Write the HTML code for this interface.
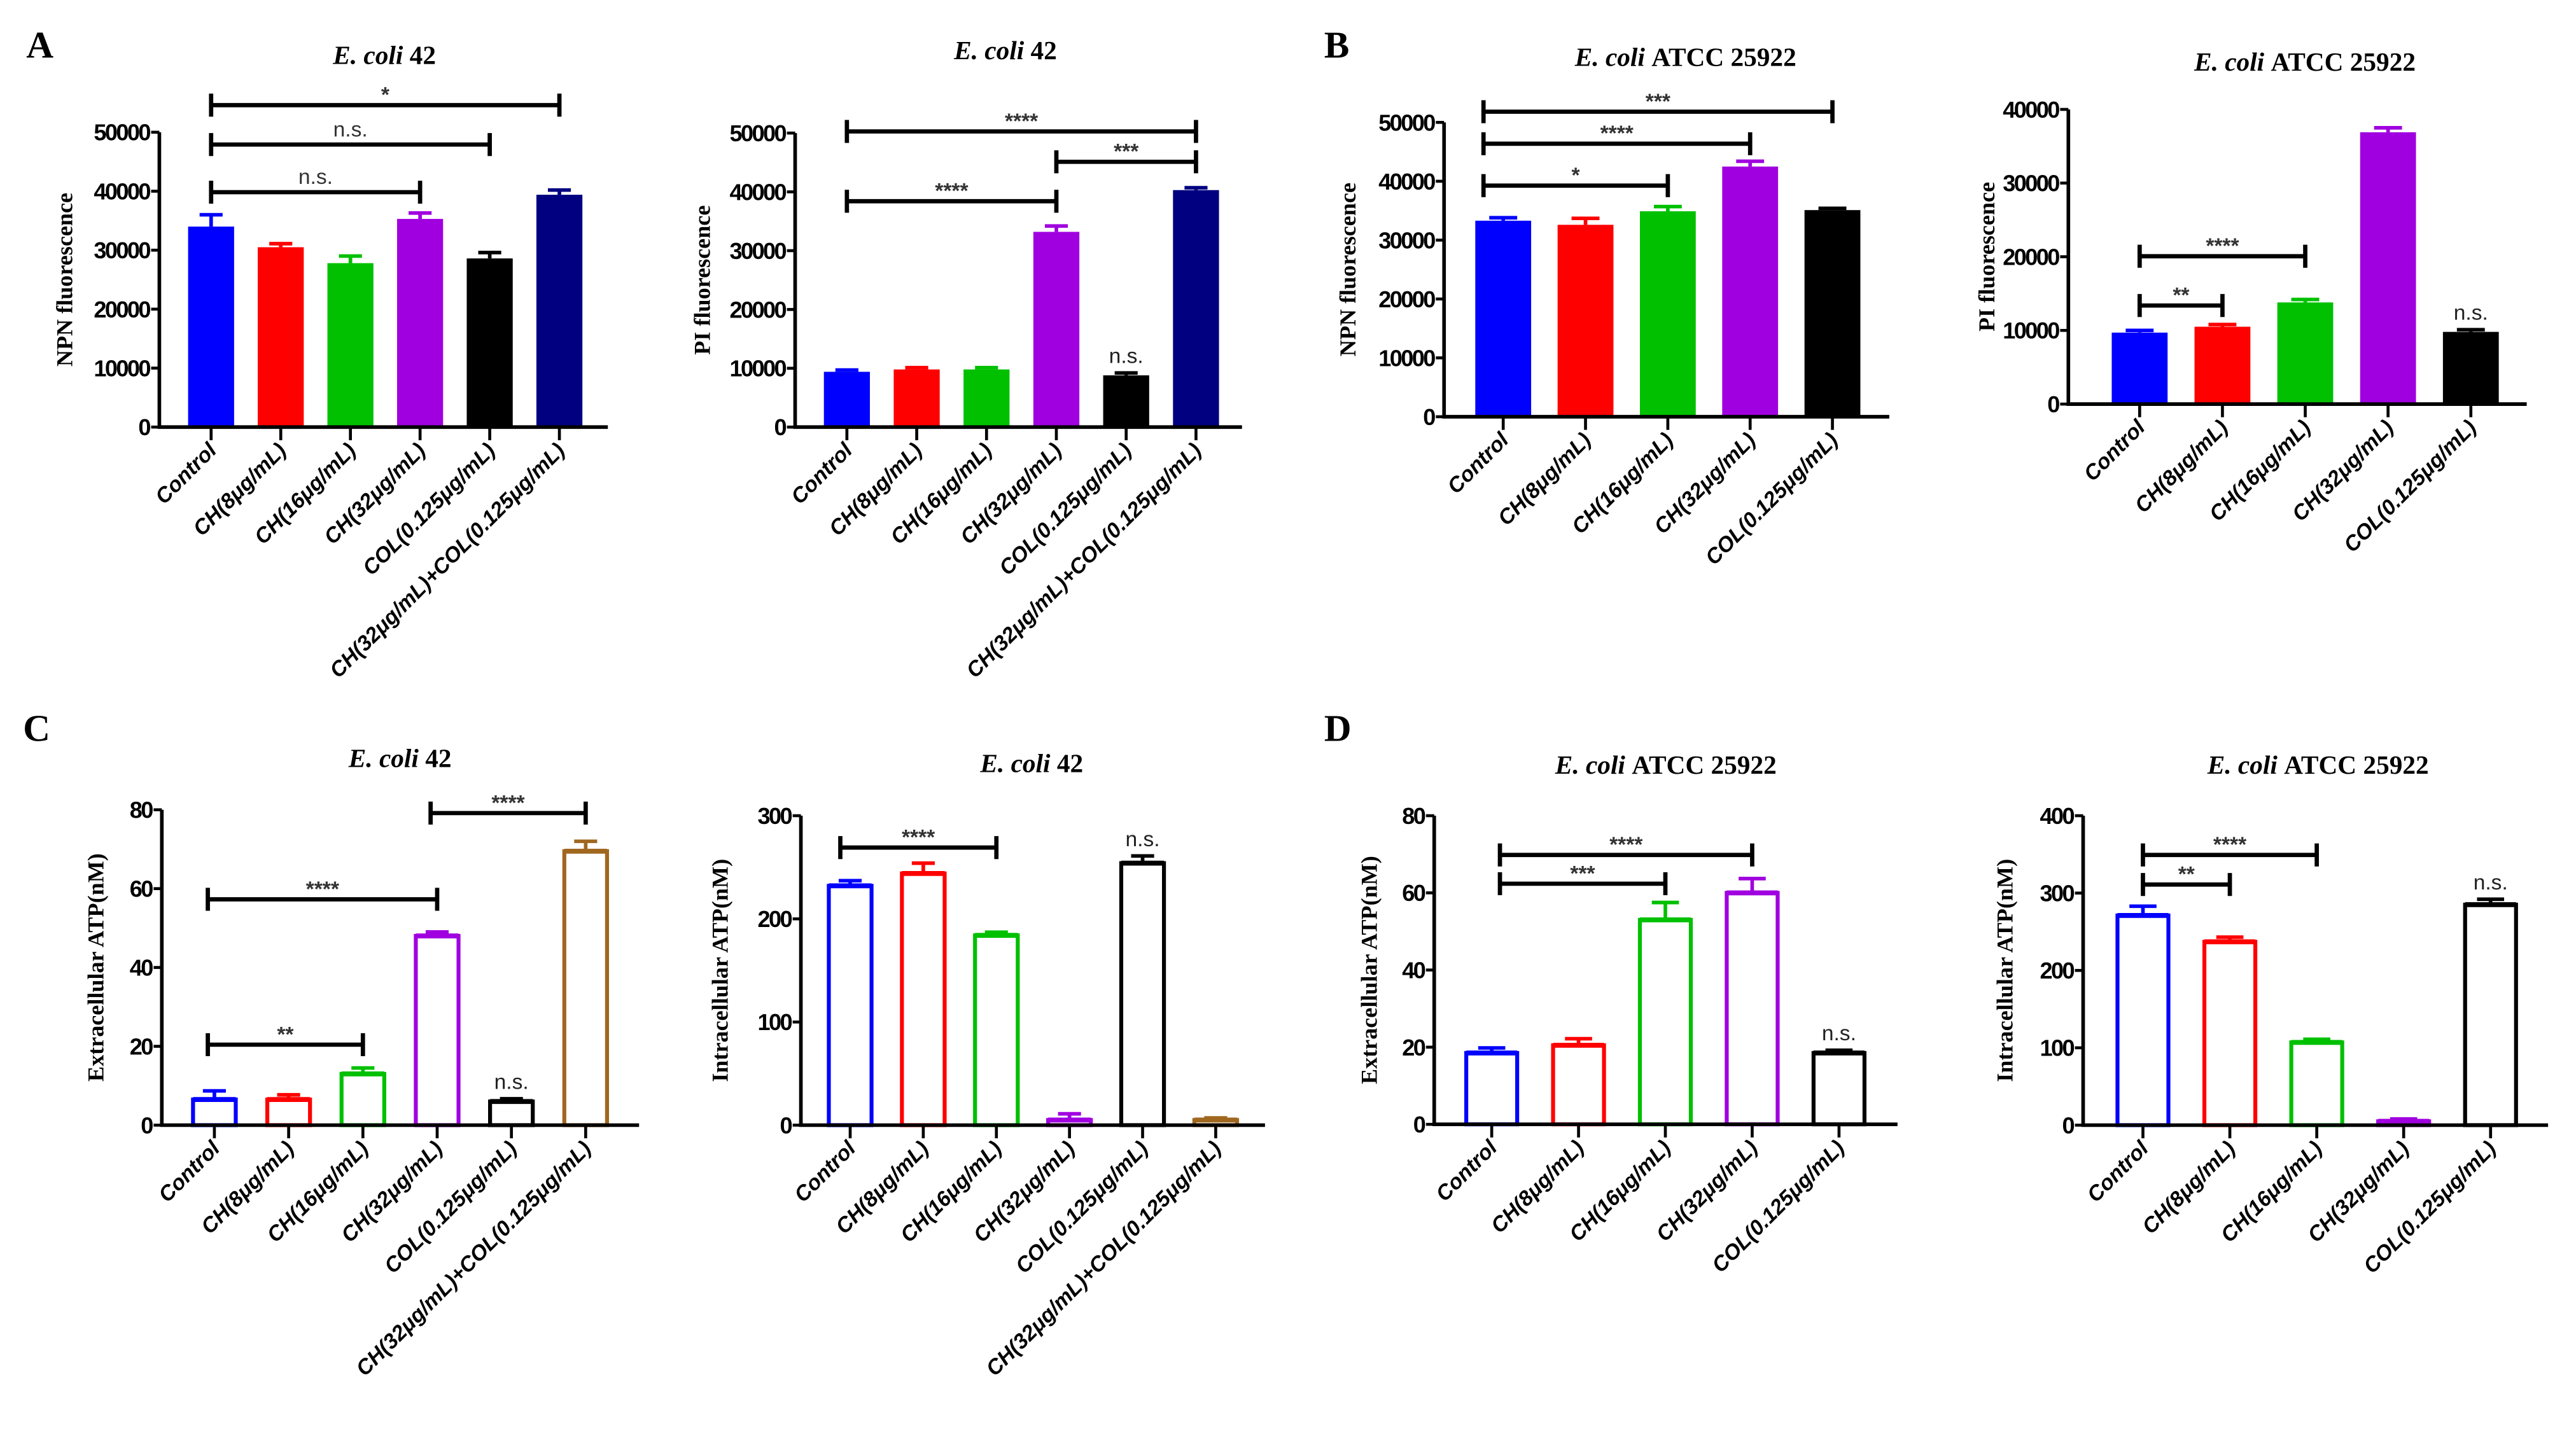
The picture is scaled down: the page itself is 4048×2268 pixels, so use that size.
<!DOCTYPE html>
<html><head><meta charset="utf-8"><style>
html,body{margin:0;padding:0;background:#fff;}
svg{display:block;}
</style></head><body>
<svg id="fig" xmlns="http://www.w3.org/2000/svg" width="4048" height="2268" viewBox="0 0 1568 878.5">
<rect width="1568" height="878.5" fill="#fff"/>
<g font-family="Liberation Serif, serif" font-weight="bold" font-size="23">
<text x="16" y="35">A</text>
<text x="806" y="35">B</text>
<text x="14" y="451">C</text>
<text x="806" y="451">D</text>
</g>
<g id="plots"></g>
</svg>
<script>
const catsFull = ["Control","CH(8μg/mL)","CH(16μg/mL)","CH(32μg/mL)","COL(0.125μg/mL)","CH(32μg/mL)+COL(0.125μg/mL)"];
const catsFive = ["Control","CH(8μg/mL)","CH(16μg/mL)","CH(32μg/mL)","COL(0.125μg/mL)"];
const colorsFull = ["#0000ff","#ff0000","#00c000","#a000e0","#000000","#000080"];
const colorsHollow = ["#0000ff","#ff0000","#00c000","#a000e0","#000000","#a0671f"];

const a1Values = [34000,30500,27800,35300,28600,39400];
const a1Errors = [2000,600,1200,1000,1000,800];
const a1Ticks = [0,10000,20000,30000,40000,50000];
const a1Sig = [[0,5,"*"],[0,4,"n.s."],[0,3,"n.s."]];

const a2Values = [9400,9800,9800,33200,8800,40300];
const a2Errors = [300,300,300,1000,400,400];
const a2Ticks = [0,10000,20000,30000,40000,50000];
const a2Sig = [[0,5,"****"],[3,5,"***"],[0,3,"****"]];

const b1Values = [33300,32600,34900,42500,35100];
const b1Errors = [500,1100,800,900,300];
const b1Ticks = [0,10000,20000,30000,40000,50000];
const b1Sig = [[0,4,"***"],[0,3,"****"],[0,2,"*"]];

const b2Values = [9700,10500,13800,36900,9800];
const b2Errors = [300,300,400,600,300];
const b2Ticks = [0,10000,20000,30000,40000];
const b2Sig = [[0,2,"****"],[0,1,"**"]];

const c1Values = [6.5,6.5,13,48,6,69.5];
const c1Errors = [2.2,1.2,1.5,1,0.7,2.5];
const c1Ticks = [0,20,40,60,80];
const c1Sig = [[3,5,"****"],[0,3,"****"],[0,2,"**"]];

const c2Values = [232,244,184,5,254,5];
const c2Errors = [5,10,3,6,7,2];
const c2Ticks = [0,100,200,300];
const c2Sig = [[0,2,"****"]];

const d1Values = [18.5,20.5,53,60,18.5];
const d1Errors = [1.3,1.7,4.5,3.7,0.7];
const d1Ticks = [0,20,40,60,80];
const d1Sig = [[0,3,"****"],[0,2,"***"]];

const d2Values = [271,237,107,5,285];
const d2Errors = [12,6,4,3,7];
const d2Ticks = [0,100,200,300,400];
const d2Sig = [[0,2,"****"],[0,1,"**"]];

const NS = "http://www.w3.org/2000/svg";
const root = document.getElementById("plots");
function mk(tag, attrs, parent){
  const e = document.createElementNS(NS, tag);
  for (const k in attrs) e.setAttribute(k, attrs[k]);
  (parent||root).appendChild(e);
  return e;
}

function panel(p){
  const g = mk("g", {});
  
  
  const yMax = p.ticks[p.ticks.length-1];
  const ys = v => p.y0 - (v / yMax) * (p.y0 - p.yTop);
  const n = p.values.length;
  const xs = i => p.x0 + i * p.step;

  const t = mk("text", {x:p.tx, y:p.ty, "text-anchor":"middle", "font-family":"Liberation Serif, serif", "font-weight":"bold", "font-size":"16"}, g);
  
  
  const ts1 = mk("tspan", {"font-style":"italic"}, t); ts1.textContent = "E. coli ";
  const ts2 = mk("tspan", {}, t); ts2.textContent = p.strain;

  const yl = mk("text", {x:0, y:0, transform:`translate(${p.ylx},${(p.y0+p.yTop)/2}) rotate(-90)`, "text-anchor":"middle", "font-family":"Liberation Serif, serif", "font-weight":"bold", "font-size":"14"}, g);
  
  
  yl.textContent = p.ylabel;

  for (let i=0;i<n;i++){
    const cx = xs(i), top = ys(p.values[i]), et = ys(p.values[i]+p.errors[i]);
    const col = p.colors[i];
    let bar;
    if (p.hollow){
      bar = mk("rect", {x:cx-p.bw/2+1, y:top, width:p.bw-2, height:p.y0-top, fill:"#fff", stroke:col, "stroke-width":2.4}, g);
    } else {
      bar = mk("rect", {x:cx-p.bw/2, y:top, width:p.bw, height:p.y0-top, fill:col}, g);
    }
    
    
    const eb = mk("path", {d:`M${cx},${top}V${et}M${cx-p.bw/4},${et}H${cx+p.bw/4}`, stroke:col, "stroke-width":2.2, fill:"none"}, g);
    
    
    if (p.hollow) mk("line", {x1:cx-p.bw/2+1, x2:cx+p.bw/2-1, y1:top, y2:top, stroke:col, "stroke-width":3}, g);
  }

  const ax = mk("path", {d:`M${p.ax},${p.yTop}V${p.y0}H${p.axEnd}`, stroke:"#000", "stroke-width":2.2, fill:"none"}, g);
  
  
  p.ticks.forEach(v=>{
    const y = ys(v);
    mk("line", {x1:p.ax-5, x2:p.ax, y1:y, y2:y, stroke:"#000", "stroke-width":1.8}, g);
    const tl = mk("text", {x:p.ax-6, y:y+5, "text-anchor":"end", "font-family":"Liberation Sans, sans-serif", "font-weight":"bold", "font-size":"14", "letter-spacing":"-1"}, g);
    
    
    tl.textContent = v;
  });
  for (let i=0;i<n;i++){
    const cx = xs(i);
    mk("line", {x1:cx, x2:cx, y1:p.y0, y2:p.y0+8, stroke:"#000", "stroke-width":1.8}, g);
    const xl = mk("text", {x:0, y:0, transform:`translate(${cx+4},${p.y0+15}) rotate(-45)`, "text-anchor":"end", "font-family":"Liberation Sans, sans-serif", "font-weight":"bold", "font-style":"italic", "font-size":"13"}, g);
    
    
    xl.textContent = p.cats[i];
  }

  p.sig.forEach((s, k)=>{
    const y = p.sigY[k];
    const xa = xs(s[0]) - p.sigOff, xb = xs(s[1]);
    const br = mk("path", {d:`M${xa},${y}H${xb}M${xa},${y-7}V${y+7}M${xb},${y-7}V${y+7}`, stroke:"#000", "stroke-width":2.6, fill:"none"}, g);
    
    
    const isNs = s[2]==="n.s.";
    const sl = mk("text", {x:(xa+xb)/2, y:y-(isNs?5:2), "text-anchor":"middle", "font-family":"Liberation Sans, sans-serif", "font-size":isNs?"13":"13", "font-weight":isNs?"normal":"bold", fill:"#333"}, g);
    
    
    sl.textContent = s[2];
  });
  (p.nsBars||[]).forEach(i=>{
    const l = mk("text", {x:xs(i), y:ys(p.values[i]+p.errors[i])-6, "text-anchor":"middle", "font-family":"Liberation Sans, sans-serif", "font-size":"13", fill:"#222"}, g);
    
    
    l.textContent = "n.s.";
  });
}

panel({name:"chart-a-npn", strain:"42", tx:234, ty:39, ylabel:"NPN fluorescence", ylx:44, values:a1Values, errors:a1Errors, ticks:a1Ticks, sig:a1Sig, sigY:[64,88,117], sigOff:0,
  cats:catsFull, colors:colorsFull, hollow:false, x0:128.5, step:42.4, bw:28, ax:97, axEnd:370, y0:260, yTop:80.5});
panel({name:"chart-a-pi", strain:"42", tx:612, ty:36, ylabel:"PI fluorescence", ylx:432, values:a2Values, errors:a2Errors, ticks:a2Ticks, sig:a2Sig, sigY:[80,98.5,122.5], sigOff:0,
  cats:catsFull, colors:colorsFull, hollow:false, x0:515.5, step:42.5, bw:28, ax:484, axEnd:756, y0:260, yTop:81, nsBars:[4]});
panel({name:"chart-b-npn", strain:"ATCC 25922", tx:1026, ty:40, ylabel:"NPN fluorescence", ylx:825, values:b1Values, errors:b1Errors, ticks:b1Ticks, sig:b1Sig, sigY:[68,87.5,113], sigOff:12,
  cats:catsFive, colors:colorsFull, hollow:false, x0:915, step:50.1, bw:34, ax:879, axEnd:1150, y0:253.7, yTop:74.5});
panel({name:"chart-b-pi", strain:"ATCC 25922", tx:1403, ty:43, ylabel:"PI fluorescence", ylx:1214, values:b2Values, errors:b2Errors, ticks:b2Ticks, sig:b2Sig, sigY:[156,186], sigOff:0,
  cats:catsFive, colors:colorsFull, hollow:false, x0:1302.4, step:50.4, bw:34, ax:1259, axEnd:1538, y0:246, yTop:66.6, nsBars:[4]});
panel({name:"chart-c-extracellular", strain:"42", tx:243.5, ty:467, ylabel:"Extracellular ATP(nM)", ylx:63, values:c1Values, errors:c1Errors, ticks:c1Ticks, sig:c1Sig, sigY:[495,547.5,636], sigOff:4,
  cats:catsFull, colors:colorsHollow, hollow:true, x0:130.5, step:45.2, bw:28, ax:98.5, axEnd:389, y0:685, yTop:493, nsBars:[4]});
panel({name:"chart-c-intracellular", strain:"42", tx:628, ty:470, ylabel:"Intracellular ATP(nM)", ylx:443, values:c2Values, errors:c2Errors, ticks:c2Ticks, sig:c2Sig, sigY:[516], sigOff:6,
  cats:catsFull, colors:colorsHollow, hollow:true, x0:517.5, step:44.5, bw:28, ax:487.5, axEnd:770, y0:685, yTop:496.6, nsBars:[4]});
panel({name:"chart-d-extracellular", strain:"ATCC 25922", tx:1014, ty:471, ylabel:"Extracellular ATP(nM)", ylx:838, values:d1Values, errors:d1Errors, ticks:d1Ticks, sig:d1Sig, sigY:[520.5,538], sigOff:-5,
  cats:catsFive, colors:colorsHollow, hollow:true, x0:908, step:52.85, bw:33, ax:873, axEnd:1155, y0:684.5, yTop:496.6, nsBars:[4]});
panel({name:"chart-d-intracellular", strain:"ATCC 25922", tx:1411, ty:471, ylabel:"Intracellular ATP(nM)", ylx:1225, values:d2Values, errors:d2Errors, ticks:d2Ticks, sig:d2Sig, sigY:[520.5,538.5], sigOff:0,
  cats:catsFive, colors:colorsHollow, hollow:true, x0:1304.4, step:52.9, bw:33, ax:1268, axEnd:1551, y0:685, yTop:496.6, nsBars:[4]});
</script>
</body></html>
